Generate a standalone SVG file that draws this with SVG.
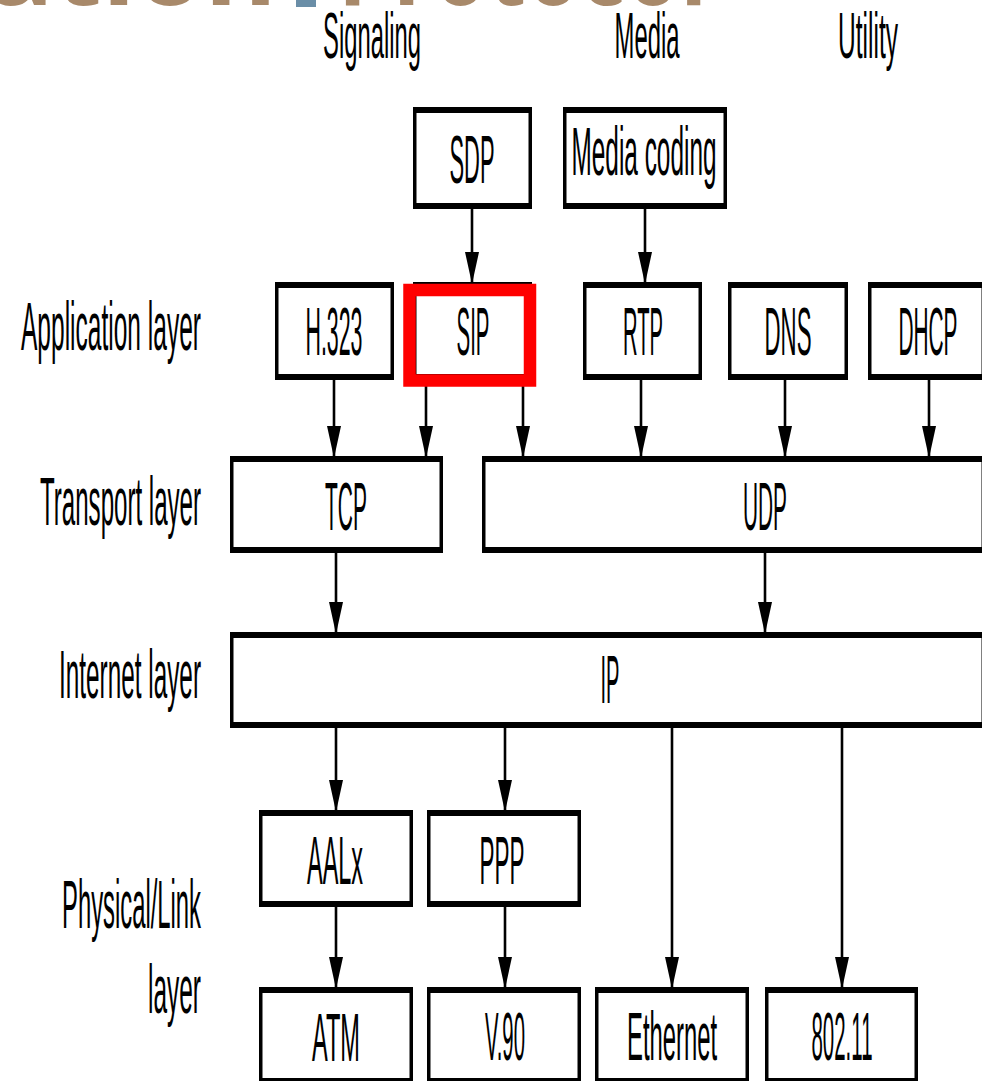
<svg xmlns="http://www.w3.org/2000/svg" width="982" height="1082" viewBox="0 0 982 1082">
<style>
.o{fill:#000}
.i{fill:#fff}
.t{font-family:"Liberation Sans",Arial,sans-serif;font-size:68px;fill:#000;text-anchor:middle}
.h{font-family:"Liberation Sans",Arial,sans-serif;font-size:64px;fill:#000;text-anchor:middle}
.l{font-family:"Liberation Sans",Arial,sans-serif;font-size:68px;fill:#000;text-anchor:end}
.ttl{font-family:"Open Sans","Liberation Sans",sans-serif;font-size:104px;font-weight:bold;fill:#A8896A}
.c line{stroke:#000;stroke-width:2.6;marker-end:url(#ah)}
</style>
<defs>
<marker id="ah" viewBox="0 0 32 14" refX="31" refY="7" markerWidth="32" markerHeight="14" markerUnits="userSpaceOnUse" orient="auto">
<path d="M0,0 L32,7 L0,14 z" fill="#000"/>
</marker>
</defs>
<rect width="982" height="1082" fill="#fff"/>
<g id="title">
<text class="ttl" x="277" y="5" text-anchor="end" textLength="290" lengthAdjust="spacingAndGlyphs">ation</text>
<rect x="296" y="0" width="20" height="7" fill="#6A8EA7"/>
<text class="ttl" x="338" y="5" textLength="369" lengthAdjust="spacingAndGlyphs">Protocol</text>
</g>
<g id="headers">
<text class="h" x="372" y="58" textLength="98" lengthAdjust="spacingAndGlyphs">Signaling</text>
<text class="h" x="647" y="58" textLength="65" lengthAdjust="spacingAndGlyphs">Media</text>
<text class="h" x="868" y="58" textLength="60" lengthAdjust="spacingAndGlyphs">Utility</text>
</g>
<g id="layer-labels">
<text class="l" x="201" y="350" textLength="180" lengthAdjust="spacingAndGlyphs">Application layer</text>
<text class="l" x="201" y="525" textLength="161" lengthAdjust="spacingAndGlyphs">Transport layer</text>
<text class="l" x="201" y="698" textLength="142" lengthAdjust="spacingAndGlyphs">Internet layer</text>
<text class="l" x="201" y="928" textLength="139" lengthAdjust="spacingAndGlyphs">Physical/Link</text>
<text class="l" x="201" y="1013" textLength="53" lengthAdjust="spacingAndGlyphs">layer</text>
</g>
<g class="c" id="connectors">
<line x1="472" y1="209" x2="472" y2="283"/>
<line x1="645" y1="209" x2="645" y2="283"/>
<line x1="334" y1="380" x2="334" y2="457"/>
<line x1="426" y1="380" x2="426" y2="457"/>
<line x1="523" y1="380" x2="523" y2="457"/>
<line x1="641" y1="380" x2="641" y2="457"/>
<line x1="785" y1="380" x2="785" y2="457"/>
<line x1="929" y1="380" x2="929" y2="457"/>
<line x1="336" y1="553" x2="336" y2="633"/>
<line x1="765" y1="553" x2="765" y2="633"/>
<line x1="336" y1="728" x2="336" y2="811"/>
<line x1="505" y1="728" x2="505" y2="811"/>
<line x1="672" y1="728" x2="672" y2="988"/>
<line x1="842" y1="728" x2="842" y2="988"/>
<line x1="336" y1="907" x2="336" y2="988"/>
<line x1="505" y1="907" x2="505" y2="988"/>
</g>
<g id="sdp"><rect class="o" x="413" y="107" width="119" height="102"/><rect class="i" x="416.5" y="113" width="112" height="90"/><text class="t" x="472" y="183" textLength="45" lengthAdjust="spacingAndGlyphs">SDP</text></g>
<g id="media-coding"><rect class="o" x="563" y="107" width="164" height="102"/><rect class="i" x="566.5" y="113" width="157" height="90"/><text class="t" x="644" y="175" textLength="145" lengthAdjust="spacingAndGlyphs">Media coding</text></g>
<g id="h323"><rect class="o" x="275" y="282" width="119" height="98"/><rect class="i" x="278.5" y="288" width="112" height="86"/><text class="t" x="334" y="355" textLength="57" lengthAdjust="spacingAndGlyphs">H.323</text></g>
<g id="sip"><rect class="o" x="413" y="282" width="119" height="98"/><rect class="i" x="416.5" y="288" width="112" height="86"/><text class="t" x="473" y="355" textLength="33" lengthAdjust="spacingAndGlyphs">SIP</text></g>
<g id="rtp"><rect class="o" x="583" y="282" width="119" height="98"/><rect class="i" x="586.5" y="288" width="112" height="86"/><text class="t" x="643" y="355" textLength="40" lengthAdjust="spacingAndGlyphs">RTP</text></g>
<g id="dns"><rect class="o" x="728" y="282" width="120" height="98"/><rect class="i" x="731.5" y="288" width="113" height="86"/><text class="t" x="788" y="355" textLength="47" lengthAdjust="spacingAndGlyphs">DNS</text></g>
<g id="dhcp"><rect class="o" x="868" y="282" width="117" height="98"/><rect class="i" x="871.5" y="288" width="110" height="86"/><text class="t" x="928" y="355" textLength="59" lengthAdjust="spacingAndGlyphs">DHCP</text></g>
<g id="tcp"><rect class="o" x="230" y="456" width="213" height="97"/><rect class="i" x="233.5" y="462" width="206" height="85"/><text class="t" x="346" y="530" textLength="42" lengthAdjust="spacingAndGlyphs">TCP</text></g>
<g id="udp"><rect class="o" x="482" y="456" width="503" height="97"/><rect class="i" x="485.5" y="462" width="496" height="85"/><text class="t" x="765" y="530" textLength="44" lengthAdjust="spacingAndGlyphs">UDP</text></g>
<g id="ip"><rect class="o" x="230" y="632" width="755" height="96"/><rect class="i" x="233.5" y="638" width="748" height="84"/><text class="t" x="610" y="703" textLength="19" lengthAdjust="spacingAndGlyphs">IP</text></g>
<g id="aalx"><rect class="o" x="259" y="810" width="154" height="97"/><rect class="i" x="262.5" y="816" width="147" height="85"/><text class="t" x="335" y="884" textLength="56" lengthAdjust="spacingAndGlyphs">AALx</text></g>
<g id="ppp"><rect class="o" x="427" y="810" width="154" height="97"/><rect class="i" x="430.5" y="816" width="147" height="85"/><text class="t" x="502" y="884" textLength="45" lengthAdjust="spacingAndGlyphs">PPP</text></g>
<g id="atm"><rect class="o" x="259" y="987" width="154" height="94"/><rect class="i" x="262.5" y="993" width="147" height="85"/><text class="t" x="336" y="1061" textLength="48" lengthAdjust="spacingAndGlyphs">ATM</text></g>
<g id="v90"><rect class="o" x="427" y="987" width="154" height="94"/><rect class="i" x="430.5" y="993" width="147" height="85"/><text class="t" x="505" y="1060" textLength="40" lengthAdjust="spacingAndGlyphs">V.90</text></g>
<g id="ethernet"><rect class="o" x="595" y="987" width="154" height="94"/><rect class="i" x="598.5" y="993" width="147" height="85"/><text class="t" x="672" y="1060" textLength="90" lengthAdjust="spacingAndGlyphs">Ethernet</text></g>
<g id="wifi"><rect class="o" x="765" y="987" width="153" height="94"/><rect class="i" x="768.5" y="993" width="146" height="85"/><text class="t" x="842" y="1060" textLength="61" lengthAdjust="spacingAndGlyphs">802.11</text></g>
<g id="highlight"><rect x="409.5" y="290" width="120.5" height="90.5" fill="none" stroke="#f00" stroke-width="12.5"/></g>
</svg>
